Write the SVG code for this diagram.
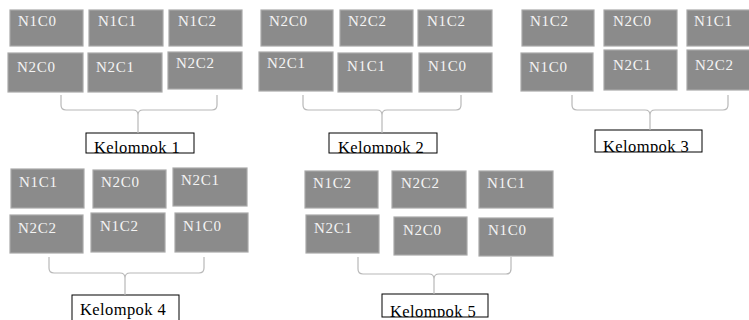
<svg xmlns="http://www.w3.org/2000/svg" width="749" height="320" viewBox="0 0 749 320">
<style>
.b{fill:#8b8b8b;stroke:#a9a9a9;stroke-width:1.2}
.t{font-family:"Liberation Serif","Times New Roman",serif;font-size:15px;fill:#f4f4f4;letter-spacing:0.7px}
.br{fill:none;stroke:#b8b8b8;stroke-width:1.2}
.lb{fill:#fff;stroke:#000;stroke-width:1}
.lt{font-family:"Liberation Serif","Times New Roman",serif;font-size:16.5px;fill:#000;letter-spacing:0.4px}
</style>
<defs>
<clipPath id="c1"><rect x="86" y="133" width="108" height="20"/></clipPath>
<clipPath id="c2"><rect x="329" y="133" width="108" height="20"/></clipPath>
<clipPath id="c3"><rect x="595" y="130" width="107" height="22"/></clipPath>
<clipPath id="c4"><rect x="72" y="295" width="107" height="25"/></clipPath>
<clipPath id="c5"><rect x="382" y="294" width="106" height="23"/></clipPath>
</defs>
<rect width="749" height="320" fill="#fff"/>

<g id="g1">
<g id="g1n1"><rect class="b" x="10" y="10" width="73" height="36"/><text class="t" x="18" y="26">N1C0</text></g>
<g id="g1n2"><rect class="b" x="89" y="10" width="74" height="36"/><text class="t" x="98" y="26">N1C1</text></g>
<g id="g1n3"><rect class="b" x="169" y="10" width="73" height="36"/><text class="t" x="178" y="26">N1C2</text></g>
<g id="g1n4"><rect class="b" x="8" y="53" width="75" height="39"/><text class="t" x="17" y="72">N2C0</text></g>
<g id="g1n5"><rect class="b" x="88" y="53" width="74" height="39"/><text class="t" x="96" y="72">N2C1</text></g>
<g id="g1n6"><rect class="b" x="168" y="52" width="74" height="37"/><text class="t" x="176" y="68">N2C2</text></g>
<g id="g1l"><rect class="lb" x="86" y="133" width="108" height="20"/><text class="lt" x="94" y="153" clip-path="url(#c1)">Kelompok 1</text></g>
</g>

<g id="g2">
<g id="g2n1"><rect class="b" x="261" y="10" width="72" height="36"/><text class="t" x="269" y="26">N2C0</text></g>
<g id="g2n2"><rect class="b" x="340" y="10" width="73" height="36"/><text class="t" x="348" y="26">N2C2</text></g>
<g id="g2n3"><rect class="b" x="418" y="10" width="74" height="36"/><text class="t" x="427" y="26">N1C2</text></g>
<g id="g2n4"><rect class="b" x="259" y="52" width="74" height="39"/><text class="t" x="267" y="68">N2C1</text></g>
<g id="g2n5"><rect class="b" x="338" y="53" width="74" height="39"/><text class="t" x="347" y="71">N1C1</text></g>
<g id="g2n6"><rect class="b" x="419" y="53" width="73" height="39"/><text class="t" x="428" y="71">N1C0</text></g>
<g id="g2l"><rect class="lb" x="329" y="133" width="108" height="20"/><text class="lt" x="338" y="153" clip-path="url(#c2)">Kelompok 2</text></g>
</g>

<g id="g3">
<g id="g3n1"><rect class="b" x="522" y="10" width="72" height="36"/><text class="t" x="530" y="26">N1C2</text></g>
<g id="g3n2"><rect class="b" x="604" y="10" width="73" height="36"/><text class="t" x="613" y="26">N2C0</text></g>
<g id="g3n3"><rect class="b" x="687" y="10" width="73" height="36"/><text class="t" x="694" y="26">N1C1</text></g>
<g id="g3n4"><rect class="b" x="521" y="53" width="72" height="38"/><text class="t" x="529" y="72">N1C0</text></g>
<g id="g3n5"><rect class="b" x="604" y="50" width="73" height="40"/><text class="t" x="613" y="70">N2C1</text></g>
<g id="g3n6"><rect class="b" x="687" y="50" width="73" height="40"/><text class="t" x="695" y="70">N2C2</text></g>
<g id="g3l"><rect class="lb" x="595" y="130" width="107" height="22"/><text class="lt" x="603" y="152" clip-path="url(#c3)">Kelompok 3</text></g>
</g>

<g id="g4">
<g id="g4n1"><rect class="b" x="11" y="169" width="73" height="39"/><text class="t" x="19" y="187">N1C1</text></g>
<g id="g4n2"><rect class="b" x="93" y="170" width="73" height="38"/><text class="t" x="101" y="187">N2C0</text></g>
<g id="g4n3"><rect class="b" x="173" y="168" width="74" height="38"/><text class="t" x="181" y="185">N2C1</text></g>
<g id="g4n4"><rect class="b" x="10" y="215" width="73" height="38"/><text class="t" x="18" y="233">N2C2</text></g>
<g id="g4n5"><rect class="b" x="91" y="213" width="74" height="39"/><text class="t" x="100" y="231">N1C2</text></g>
<g id="g4n6"><rect class="b" x="175" y="213" width="73" height="39"/><text class="t" x="183" y="231">N1C0</text></g>
<g id="g4l"><rect class="lb" x="72" y="295" width="107" height="30"/><text class="lt" x="80" y="315" clip-path="url(#c4)">Kelompok 4</text></g>
</g>

<g id="g5">
<g id="g5n1"><rect class="b" x="305" y="171" width="73" height="37"/><text class="t" x="313" y="188">N1C2</text></g>
<g id="g5n2"><rect class="b" x="392" y="171" width="74" height="37"/><text class="t" x="401" y="188">N2C2</text></g>
<g id="g5n3"><rect class="b" x="479" y="171" width="74" height="37"/><text class="t" x="487" y="188">N1C1</text></g>
<g id="g5n4"><rect class="b" x="306" y="215" width="73" height="38"/><text class="t" x="314" y="233">N2C1</text></g>
<g id="g5n5"><rect class="b" x="394" y="217" width="73" height="38"/><text class="t" x="403" y="235">N2C0</text></g>
<g id="g5n6"><rect class="b" x="479" y="218" width="74" height="38"/><text class="t" x="488" y="235">N1C0</text></g>
<g id="g5l"><rect class="lb" x="382" y="294" width="106" height="23"/><text class="lt" x="390" y="317" clip-path="url(#c5)">Kelompok 5</text></g>
</g>

<g id="connectors">
<path class="br" d="M61,95 V105 Q61,110 66,110 H133 Q138,110 138,115 V133 M138,115 Q138,110 143,110 H212 Q217,110 217,105 V95"/>
<path class="br" d="M303,95 V105 Q303,110 308,110 H377 Q382,110 382,115 V133 M382,115 Q382,110 387,110 H456 Q461,110 461,105 V95"/>
<path class="br" d="M572,95 V105 Q572,110 577,110 H645 Q650,110 650,115 V130 M650,115 Q650,110 655,110 H723 Q728,110 728,105 V95"/>
<path class="br" d="M49,257 V268 Q49,273 54,273 H120 Q125,273 125,278 V295 M125,278 Q125,273 130,273 H199 Q204,273 204,268 V257"/>
<path class="br" d="M358,257 V269 Q358,274 363,274 H429 Q434,274 434,279 V294 M434,279 Q434,274 439,274 H506 Q511,274 511,269 V257"/>
</g>
</svg>
